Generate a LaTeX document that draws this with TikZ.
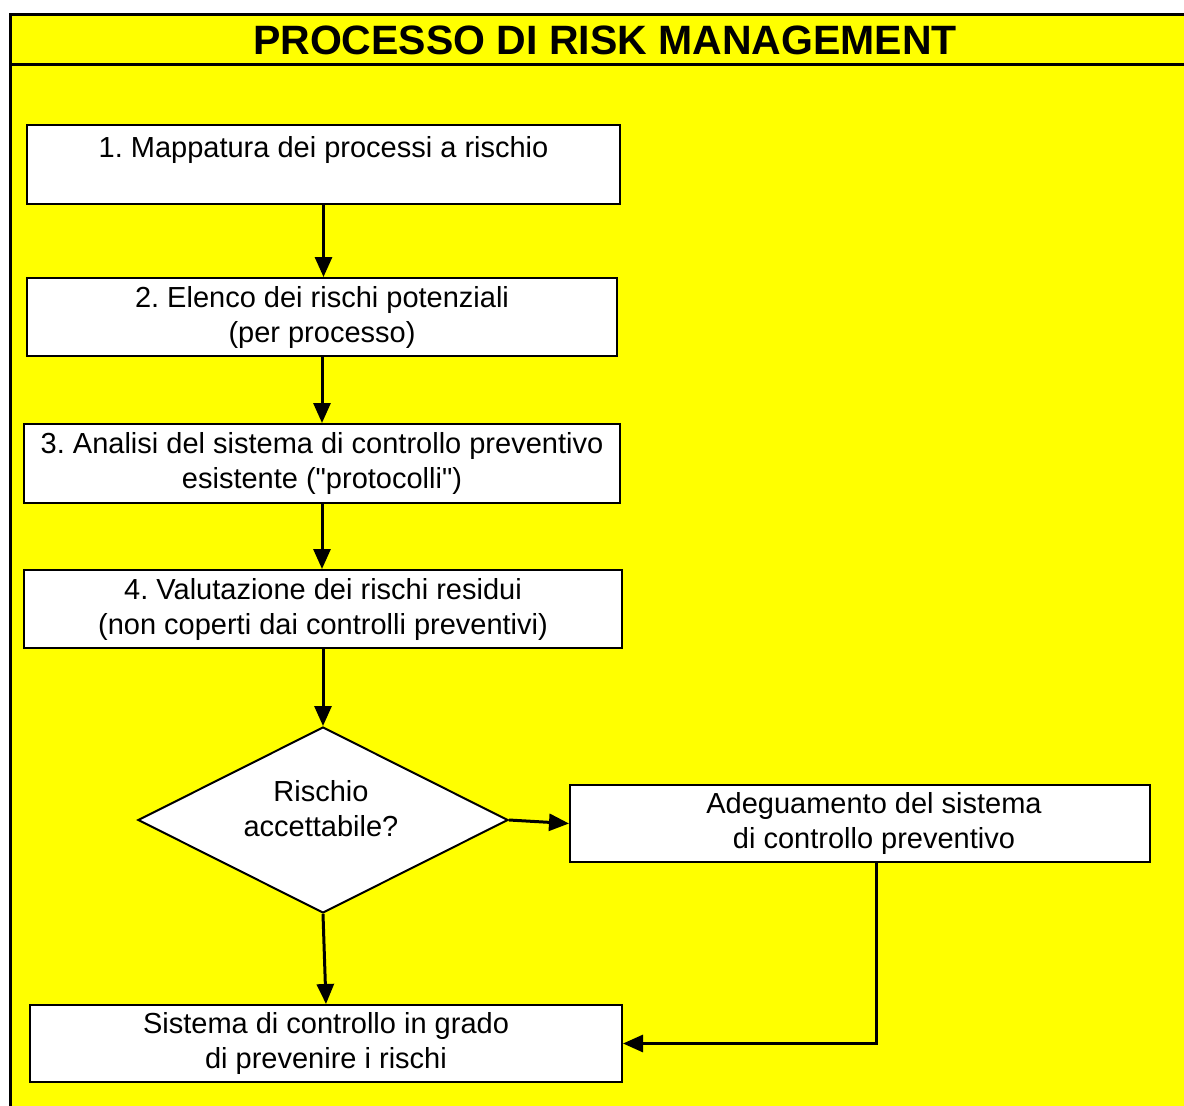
\documentclass[tikz,border=0pt]{standalone}
\usepackage{fontspec}
\setmainfont{Liberation Sans}[Ligatures=TeXOff]
\usetikzlibrary{arrows.meta,shapes.geometric}
\definecolor{band}{HTML}{FFFF00}

\begin{document}
\frenchspacing
\begin{tikzpicture}[x=1pt,y=-1pt,
          every node/.style={font=\fontsize{29}{35}\selectfont},
          stepbox/.style={rectangle,draw,line width=2pt,fill=white,
              inner sep=0pt,align=center},
          choice/.style={diamond,aspect=2,draw,line width=2pt,fill=white,
              inner sep=0pt},
          arr/.style={-{Triangle[length=20pt,width=17pt]},line width=3pt}]
        \useasboundingbox (0,0) rectangle (1184,1106);
        \fill[band] (10.5,14.5) rectangle (1190,1110);
        \draw[line width=3pt] (10.5,1110) |- (1190,14.5);
        \draw[line width=3pt] (10.5,64.5) -- (1190,64.5);
        \node[font=\fontsize{41}{49}\selectfont\bfseries] (title) at (605,40)
          {PROCESSO DI RISK MANAGEMENT};

        \node[stepbox,minimum width=593pt,minimum height=79pt] (map) at (323.5,164.5)
          {1. Mappatura dei processi a rischio\\\mbox{}};
        \node[stepbox,minimum width=590pt,minimum height=78pt] (list) at (322,317)
          {2. Elenco dei rischi potenziali\\(per processo)};
        \node[stepbox,minimum width=596pt,minimum height=79pt] (anal) at (322,463.5)
          {3. Analisi del sistema di controllo preventivo\\esistente ("protocolli")};
        \node[stepbox,minimum width=598pt,minimum height=78pt] (eval) at (323,609)
          {4. Valutazione dei rischi residui\\(non coperti dai controlli preventivi)};
        \node[choice,minimum width=370pt,minimum height=186pt] (ok) at (323,820) {};
        \node[align=center] (oktext) at (321,809) {Rischio\\accettabile?};
        \node[stepbox,minimum width=580pt,minimum height=77pt] (adj) at (860,823.5)
          {\hspace*{28pt}Adeguamento del sistema\\\hspace*{28pt}di controllo preventivo};
        \node[stepbox,minimum width=592pt,minimum height=77pt] (prev) at (326,1043.5)
          {Sistema di controllo in grado\\di prevenire i rischi};

        \draw[arr] (map.south) -- (map.south |- list.north);
        \draw[arr] (list.south) -- (list.south |- anal.north);
        \draw[arr] (anal.south) -- (anal.south |- eval.north);
        \draw[arr] (eval.south) -- (ok.north);
        \draw[arr] (ok.east) -- (adj.west);
        \draw[arr] (ok.south) -- (prev.north);
        \draw[arr] ([xshift=16pt]adj.south) |- (prev.east);
      \end{tikzpicture}
\end{document}
